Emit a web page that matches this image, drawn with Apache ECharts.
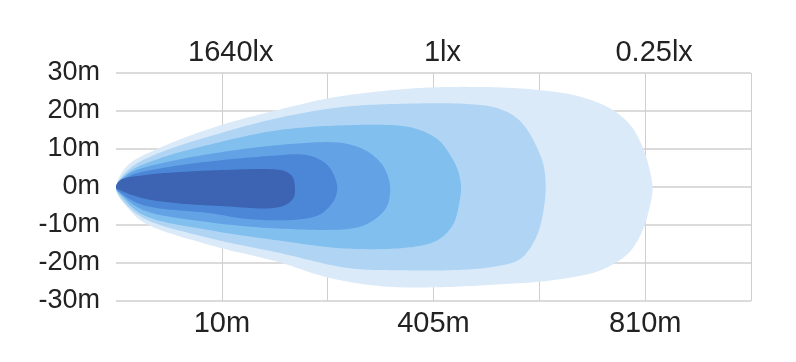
<!DOCTYPE html>
<html>
<head>
<meta charset="utf-8">
<script src="https://cdn.jsdelivr.net/npm/echarts@6/dist/echarts.min.js"></script>
<style>
	html, body { margin: 0; padding: 0; background: #fff; }
	#chartHaz { width: 796px; height: 362px; }
</style>
</head>
<body>
<div id="chartHaz"></div>
<script>
// Etiquetas de los ejes (una por cada línea vertical, 0..6)
const distancias = ['', '10m', '', '405m', '', '810m', '']
const iluminancias = ['', '1640lx', '', '1lx', '', '0.25lx', '']
const anchos = [-30, -20, -10, 0, 10, 20, 30]

// Contornos del haz: [columna, metros], de la punta hacia la derecha por arriba y de vuelta por abajo
const haz025 = [[0, -0.1], [0.04, 3.1], [0.13, 6.2], [0.42, 10.4], [0.98, 16.2], [1.52, 20.2], [2.0, 23.3], [2.5, 25.2], [2.97, 26.2], [3.63, 26.2], [4.04, 25.4], [4.34, 24.1], [4.58, 21.9], [4.74, 19.4], [4.88, 15.6], [4.98, 10.2], [5.04, 4.8], [5.07, -0.6], [5.04, -5.5], [4.98, -11.2], [4.84, -17.5], [4.58, -21.9], [4.3, -23.8], [4.01, -24.9], [3.63, -25.6], [3.0, -26.4], [2.5, -26.1], [2.0, -23.8], [1.52, -19.6], [0.89, -15.3], [0.26, -9.3], [0.09, -4.8], [0.02, -2.2]]
const haz05 = [[0, -0.1], [0.13, 4.9], [0.42, 9.1], [0.98, 14.1], [1.52, 18.1], [2.12, 21.0], [2.69, 21.9], [3.35, 21.8], [3.61, 20.7], [3.78, 18.3], [3.89, 14.9], [3.98, 10.2], [4.04, 5.7], [4.06, -0.1], [4.04, -6.1], [3.99, -11.9], [3.9, -16.6], [3.8, -19.3], [3.54, -21.1], [3.16, -21.9], [2.69, -21.9], [2.21, -21.4], [1.52, -17.2], [0.89, -13.5], [0.26, -8.2], [0.06, -3.5]]
const haz1 = [[0, -0.1], [0.13, 4.1], [0.42, 7.6], [0.98, 11.8], [1.52, 14.9], [2.12, 16.2], [2.69, 16.1], [2.88, 14.9], [3.05, 12.3], [3.16, 8.3], [3.23, 4.4], [3.26, -0.1], [3.24, -4.8], [3.19, -9.6], [3.09, -13.0], [2.97, -14.8], [2.69, -16.1], [2.12, -16.1], [1.52, -14.0], [0.89, -11.4], [0.26, -7.4], [0.06, -2.7]]
const haz10 = [[0, -0.1], [0.13, 3.6], [0.42, 6.2], [0.98, 9.1], [1.52, 11.0], [2.03, 11.8], [2.21, 11.2], [2.39, 9.1], [2.52, 5.7], [2.58, 1.8], [2.59, -1.4], [2.56, -5.1], [2.47, -8.0], [2.34, -10.1], [2.17, -11.1], [1.52, -10.9], [0.89, -9.3], [0.26, -6.1], [0.06, -2.2]]
const haz100 = [[0, -0.1], [0.13, 2.9], [0.42, 4.9], [0.98, 7.0], [1.52, 8.3], [1.74, 8.6], [1.88, 7.8], [2.0, 5.7], [2.06, 3.1], [2.09, -0.1], [2.07, -3.0], [2.01, -5.3], [1.93, -7.2], [1.74, -8.5], [1.27, -8.5], [0.89, -6.9], [0.26, -4.8], [0.06, -1.9]]
const haz1640 = [[0, -0.1], [0.04, 1.8], [0.26, 3.1], [0.58, 3.9], [1.05, 4.5], [1.46, 4.7], [1.6, 4.1], [1.67, 2.6], [1.69, -0.1], [1.68, -2.7], [1.61, -4.6], [1.46, -5.6], [1.05, -5.1], [0.58, -4.3], [0.26, -3.0], [0.06, -1.1]]

// del más claro (fondo) al más oscuro (encima)
const capas = [haz025, haz05, haz1, haz10, haz100, haz1640]
const colores = ['#dbeaf8', '#b0d5f4', '#80bfee', '#62a2e5', '#4c86d6', '#3c64b2']

const fuente = "'Liberation Sans', Arial, sans-serif"

const chart = echarts.init(document.getElementById('chartHaz'))

// Catmull-Rom centrípeta cerrada, sobre los puntos ya pasados a píxeles
function suavizar(pts, pasos = 16) {
	const n = pts.length
	const salida = []
	const dist = (a, b) => Math.max(Math.sqrt(Math.hypot(b[0] - a[0], b[1] - a[1])), 1e-4)
	const mezcla = (a, b, ta, tb, t) => {
		const u = (t - ta) / (tb - ta)
		return [a[0] + (b[0] - a[0]) * u, a[1] + (b[1] - a[1]) * u]
	}
	for (let i = 0; i < n; i++) {
		const p0 = pts[(i - 1 + n) % n]
		const p1 = pts[i]
		const p2 = pts[(i + 1) % n]
		const p3 = pts[(i + 2) % n]
		const t0 = 0
		const t1 = t0 + dist(p0, p1)
		const t2 = t1 + dist(p1, p2)
		const t3 = t2 + dist(p2, p3)
		for (let k = 0; k < pasos; k++) {
			const t = t1 + ((t2 - t1) * k) / pasos
			const a1 = mezcla(p0, p1, t0, t1, t)
			const a2 = mezcla(p1, p2, t1, t2, t)
			const a3 = mezcla(p2, p3, t2, t3, t)
			const b1 = mezcla(a1, a2, t0, t2, t)
			const b2 = mezcla(a2, a3, t1, t3, t)
			salida.push(mezcla(b1, b2, t1, t2, t))
		}
	}
	return salida
}

function serieContorno(puntos, color) {
	return {
		type: 'custom',
		xAxisIndex: 0,
		yAxisIndex: 0,
		silent: true,
		data: puntos,
		renderItem: (params, api) => {
			// dibujar el polígono completo una sola vez
			if (params.dataIndex !== 0) return null
			const pts = puntos.map((p) => api.coord(p))
			return {
				type: 'polygon',
				shape: { points: suavizar(pts) },
				style: { fill: color },
			}
		},
	}
}

chart.setOption({
	animation: false,
	grid: { left: 116, right: 45, top: 73, bottom: 61 },
	xAxis: [
		{
			type: 'value',
			position: 'bottom',
			min: 0,
			max: 6,
			interval: 1,
			axisLine: { show: false },
			axisTick: { show: false },
			axisLabel: {
				margin: 8,
				fontSize: 29,
				fontFamily: fuente,
				color: '#222',
				formatter: (v) => distancias[Math.round(v)] || '',
			},
			splitLine: {
				show: true,
				showMinLine: false,
				lineStyle: { color: '#cfcfcf', width: 1 },
			},
		},
		{
			type: 'value',
			position: 'top',
			min: 0,
			max: 6,
			interval: 1,
			axisLine: { show: false },
			axisTick: { show: false },
			axisLabel: {
				margin: 6,
				fontSize: 29,
				fontFamily: fuente,
				color: '#222',
				padding: [0, 0, 0, 18],
				formatter: (v) => iluminancias[Math.round(v)] || '',
			},
			splitLine: { show: false },
		},
	],
	yAxis: {
		type: 'value',
		min: anchos[0],
		max: anchos[anchos.length - 1],
		interval: 10,
		axisLine: { show: false },
		axisTick: { show: false },
		axisLabel: {
			margin: 16,
			fontSize: 27,
			fontFamily: fuente,
			color: '#222',
			formatter: '{value}m',
		},
		splitLine: {
			lineStyle: { color: '#cfcfcf', width: 1.5 },
		},
	},
	series: capas.map((c, i) => serieContorno(c, colores[i])),
})
</script>
</body>
</html>
